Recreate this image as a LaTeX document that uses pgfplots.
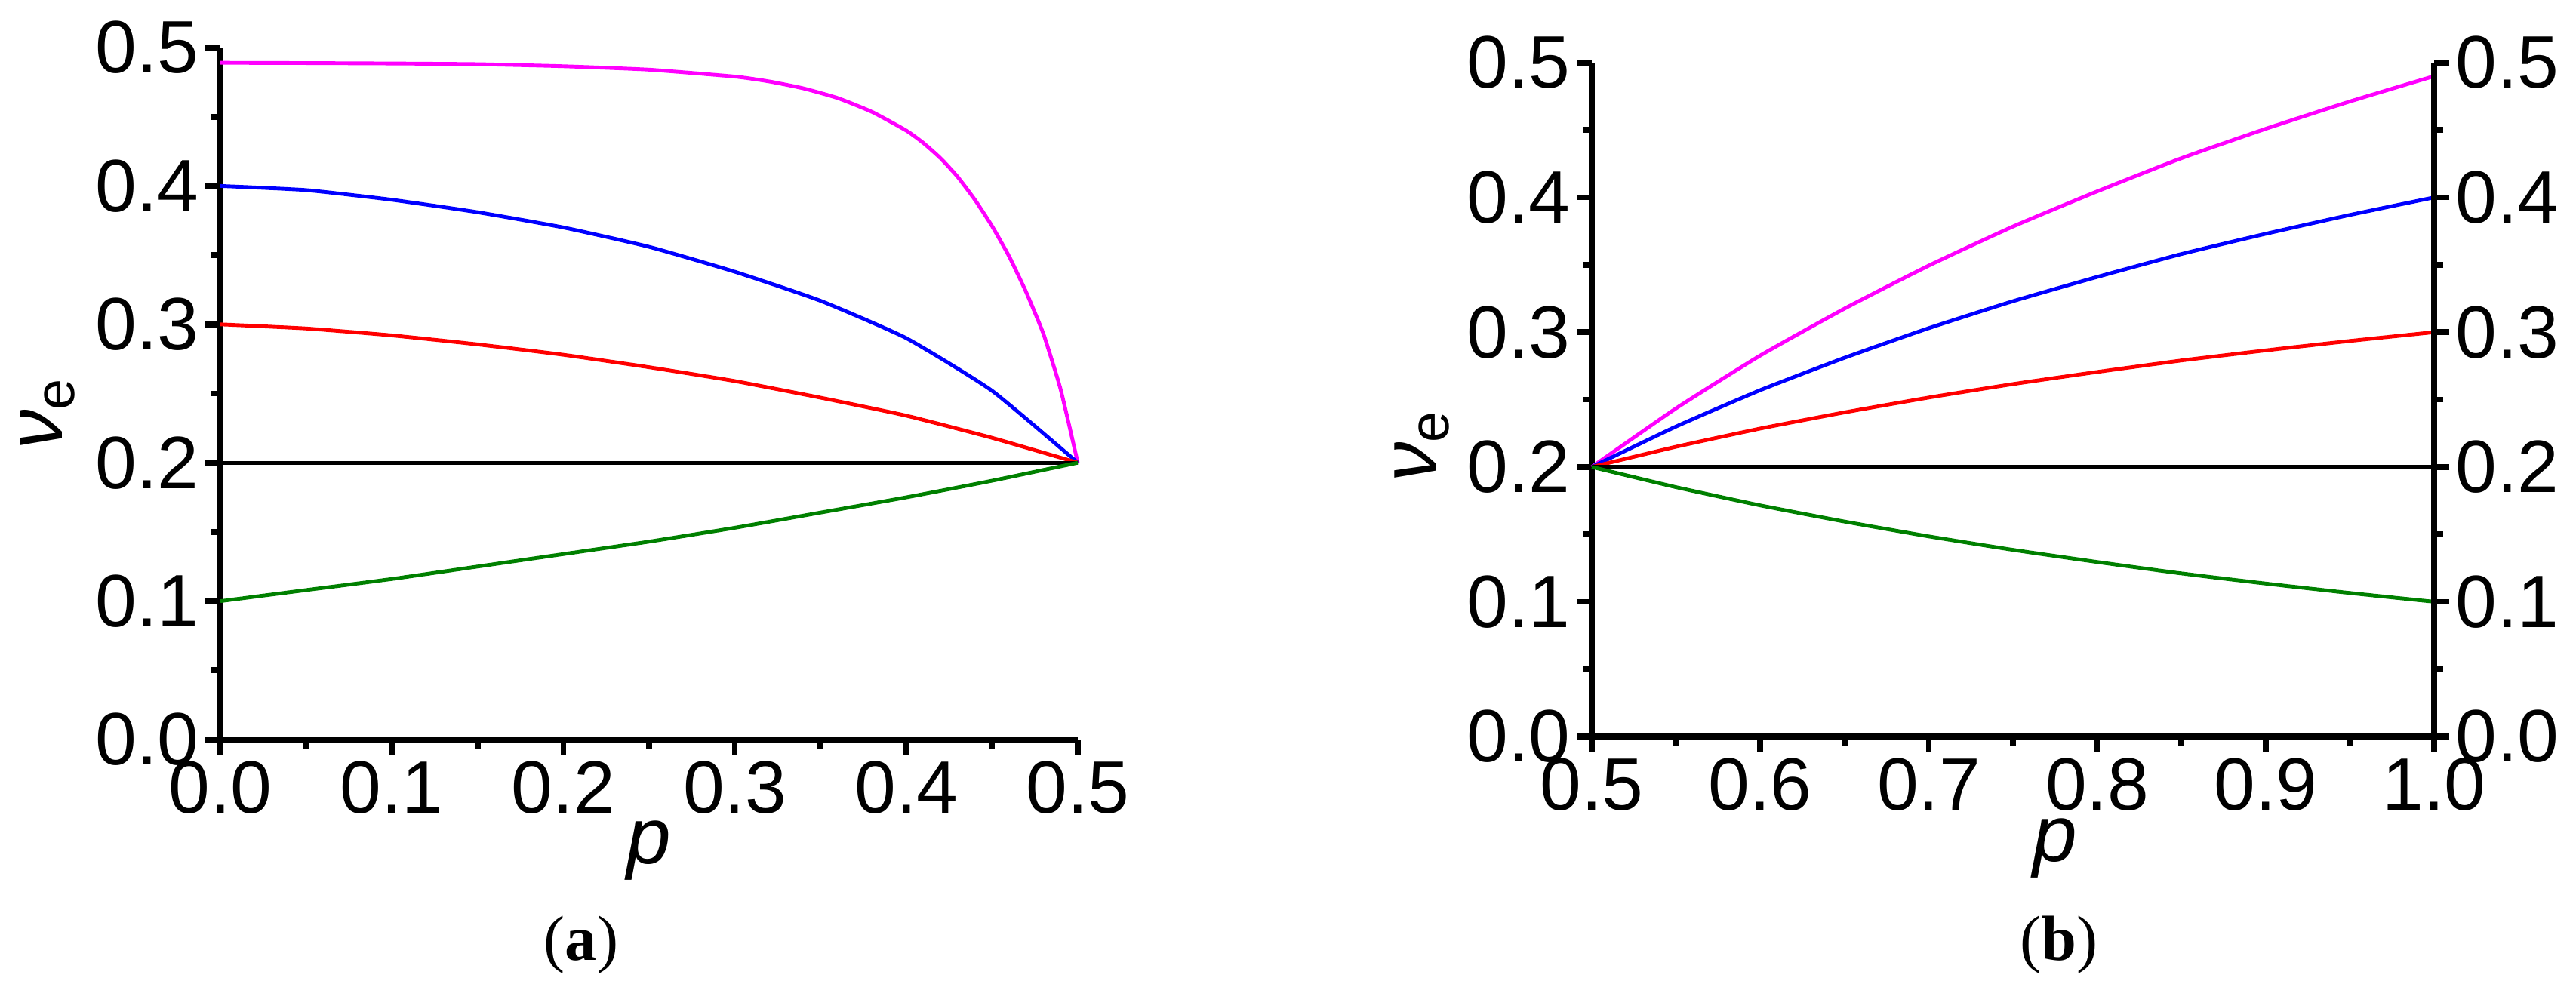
\documentclass[border=0pt]{standalone}
\usepackage{fontspec}
\setmainfont{Liberation Sans}
\newfontfamily\capfont{Liberation Serif}
\usepackage{pgfplots}
\pgfplotsset{compat=1.18}
\definecolor{cmag}{RGB}{255,0,255}
\definecolor{cblue}{RGB}{0,0,255}
\definecolor{cred}{RGB}{255,0,0}
\definecolor{cgreen}{RGB}{0,128,0}
\pgfplotsset{
  base/.style={
    scale only axis,
    axis line style={line width=1.1pt},
    tick style={line width=1.1pt,black},
    tick align=outside,
    major tick length=1mm,
    minor tick length=0.6mm,
    minor tick num=1,
    ymin=0,ymax=0.5,
    ytick={0,0.1,0.2,0.3,0.4,0.5},
    /pgf/number format/assume math mode=true,
    /pgf/number format/.cd, fixed, fixed zerofill, precision=1, /pgfplots/.cd,
    ticklabel style={font=\fontsize{14}{16}\selectfont},
    xticklabel style={inner sep=1pt},
    yticklabel style={inner sep=1pt},
    every axis plot/.append style={line width=0.7pt, smooth, tension=0.3},
    clip=false,
  }
}
\begin{document}
\begin{tikzpicture}
\path (0,0) rectangle (170.65mm,-65mm);
% ---------- (a) ----------
\begin{axis}[base,
  at={(14.6mm,-49.0mm)}, anchor=south west,
  width=56.8mm, height=45.85mm,
  xmin=0, xmax=0.5, xtick={0,0.1,0.2,0.3,0.4,0.5},
  axis x line*=bottom, axis y line*=left,
  xlabel={\fontsize{15}{17}\selectfont\itshape p},
  xlabel style={at={(axis description cs:0.5,-0.179)},anchor=base},
  ylabel={\fontsize{15}{17}\selectfont{\itshape ν}\textsubscript{e}},
  ylabel style={at={(axis description cs:-0.2016,0.472)},anchor=center},
]
\addplot[cmag] coordinates {(0,0.489)(0.05,0.4888)(0.1,0.4885)(0.15,0.488)(0.2,0.4865)(0.25,0.484)(0.3,0.479)(0.32,0.4755)(0.34,0.4705)(0.36,0.4635)(0.38,0.4535)(0.40,0.44)(0.41,0.431)(0.42,0.42)(0.43,0.4065)(0.44,0.39)(0.45,0.371)(0.46,0.349)(0.47,0.323)(0.48,0.293)(0.49,0.253)(0.5,0.2)};
\addplot[cblue] coordinates {(0,0.400)(0.05,0.397)(0.1,0.390)(0.15,0.381)(0.2,0.370)(0.25,0.356)(0.3,0.338)(0.35,0.317)(0.4,0.290)(0.45,0.252)(0.5,0.2)};
\addplot[cred] coordinates {(0,0.300)(0.05,0.297)(0.1,0.292)(0.15,0.2855)(0.2,0.278)(0.25,0.269)(0.3,0.259)(0.35,0.247)(0.4,0.234)(0.45,0.218)(0.5,0.2)};
\addplot[black] coordinates {(0,0.2)(0.5,0.2)};
\addplot[cgreen] coordinates {(0,0.100)(0.05,0.108)(0.1,0.116)(0.15,0.125)(0.2,0.134)(0.25,0.143)(0.3,0.153)(0.35,0.164)(0.4,0.175)(0.45,0.187)(0.5,0.2)};
\end{axis}
% ---------- (b) ----------
\begin{axis}[base,
  at={(105.45mm,-48.8mm)}, anchor=south west,
  width=55.8mm, height=44.65mm,
  xmin=0.5, xmax=1.0, xtick={0.5,0.6,0.7,0.8,0.9,1.0},
  axis x line*=bottom, axis y line*=left,
  xlabel={\fontsize{15}{17}\selectfont\itshape p},
  xlabel style={at={(axis description cs:0.55,-0.185)},anchor=base},
  ylabel={\fontsize{15}{17}\selectfont{\itshape ν}\textsubscript{e}},
  ylabel style={at={(axis description cs:-0.2016,0.432)},anchor=center},
]
\addplot[cmag] coordinates {(0.5,0.2)(0.55,0.2435)(0.6,0.2827)(0.65,0.3175)(0.7,0.3494)(0.75,0.3784)(0.8,0.4045)(0.85,0.4291)(0.9,0.4509)(0.95,0.4712)(1.0,0.49)};
\addplot[cblue] coordinates {(0.5,0.2)(0.55,0.23)(0.6,0.257)(0.65,0.281)(0.7,0.303)(0.75,0.323)(0.8,0.341)(0.85,0.358)(0.9,0.373)(0.95,0.387)(1.0,0.40)};
\addplot[cred] coordinates {(0.5,0.2)(0.55,0.215)(0.6,0.2285)(0.65,0.2405)(0.7,0.2515)(0.75,0.2615)(0.8,0.2705)(0.85,0.279)(0.9,0.2865)(0.95,0.2935)(1.0,0.30)};
\addplot[black] coordinates {(0.5,0.2)(1.0,0.2)};
\addplot[cgreen] coordinates {(0.5,0.2)(0.55,0.185)(0.6,0.1715)(0.65,0.1595)(0.7,0.1485)(0.75,0.1385)(0.8,0.1295)(0.85,0.121)(0.9,0.1135)(0.95,0.1065)(1.0,0.10)};
\end{axis}
\begin{axis}[base,
  at={(105.45mm,-48.8mm)}, anchor=south west,
  width=55.8mm, height=44.65mm,
  xmin=0.5, xmax=1.0,
  axis x line=none, axis y line*=right,
]
\end{axis}
\node[font=\capfont\fontsize{12}{14}\selectfont, inner sep=0pt] at (38.5mm,-62.6mm) {(\textbf{a})};
\node[font=\capfont\fontsize{12}{14}\selectfont, inner sep=0pt] at (136.4mm,-62.6mm) {(\textbf{b})};
\end{tikzpicture}
\end{document}
